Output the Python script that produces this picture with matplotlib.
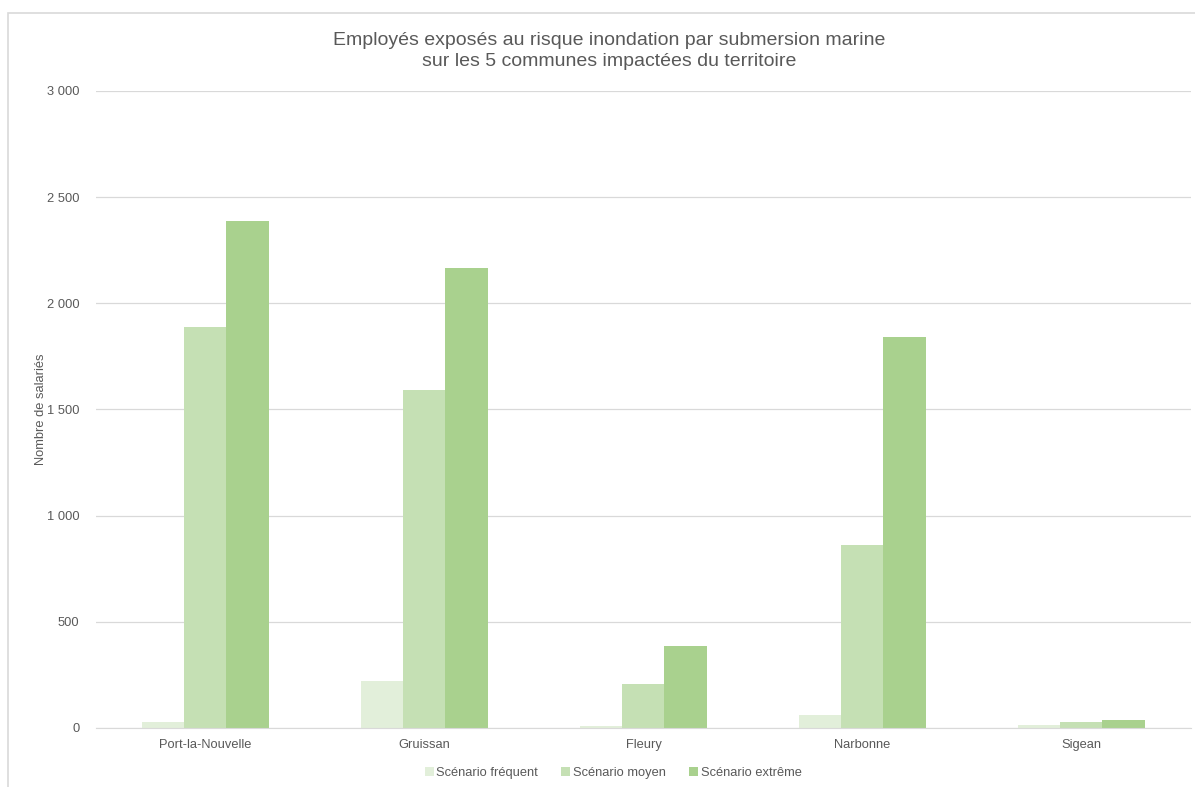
import matplotlib.pyplot as plt
import numpy as np
from matplotlib.ticker import FuncFormatter
from matplotlib.patches import Rectangle

plt.rcParams['font.family'] = ['Liberation Sans', 'DejaVu Sans']

communes = ['Port-la-Nouvelle', 'Gruissan', 'Fleury', 'Narbonne', 'Sigean']
frequent = [28, 222, 10, 61, 14]
moyen = [1890, 1592, 207, 862, 28]
extreme = [2388, 2166, 386, 1842, 38]
series_names = ['Scénario fréquent', 'Scénario moyen', 'Scénario extrême']
colors = ['#e2efda', '#c5e0b4', '#a9d18e']
text_col = '#595959'

fig = plt.figure(figsize=(11.95, 7.87), dpi=100)
ax = fig.add_axes([0.0803, 0.075, 0.9163, 0.8094])

x = np.arange(len(communes))
w = 0.192
for i, (vals, name, c) in enumerate(zip([frequent, moyen, extreme], series_names, colors)):
    ax.bar(x + (i - 1) * w, vals, width=w, color=c, label=name, zorder=2)

ax.set_xlim(-0.5, len(communes) - 0.5)
ax.set_ylim(0, 3000)
ax.set_yticks(np.arange(0, 3001, 500))
ax.yaxis.set_major_formatter(FuncFormatter(lambda v, p: f'{int(v):,}'.replace(',', ' ')))
ax.set_xticks(x)
ax.set_xticklabels(communes)
ax.grid(axis='y', color='#d9d9d9', linewidth=0.9, zorder=0)
for s in ['top', 'right', 'left']:
    ax.spines[s].set_visible(False)
ax.spines['bottom'].set_color('#d9d9d9')
ax.tick_params(axis='both', length=0, colors=text_col, labelsize=9.3)
ax.tick_params(axis='y', pad=12)
ax.tick_params(axis='x', pad=8)

fig.text(0.034, 0.48, 'Nombre de salariés', rotation=90, ha='center', va='center',
         fontsize=9.3, color=text_col)
fig.text(0.51, 0.935, 'Employés exposés au risque inondation par submersion marine\nsur les 5 communes impactées du territoire',
         ha='center', va='center', fontsize=14, color=text_col, linespacing=1.3)

fig.legend(loc='center', bbox_to_anchor=(0.513, 0.018), ncol=3, frameon=False,
           fontsize=9.3, labelcolor=text_col, handlelength=0.7, handleheight=0.7,
           handletextpad=0.2, columnspacing=1.8)

fig.patches.append(Rectangle((0.007, -0.05), 1.1, 0.034 + 1.0, transform=fig.transFigure,
                             fill=False, edgecolor='#d9d9d9', linewidth=1.2))

fig.savefig('out.png', dpi=100, facecolor='white')
